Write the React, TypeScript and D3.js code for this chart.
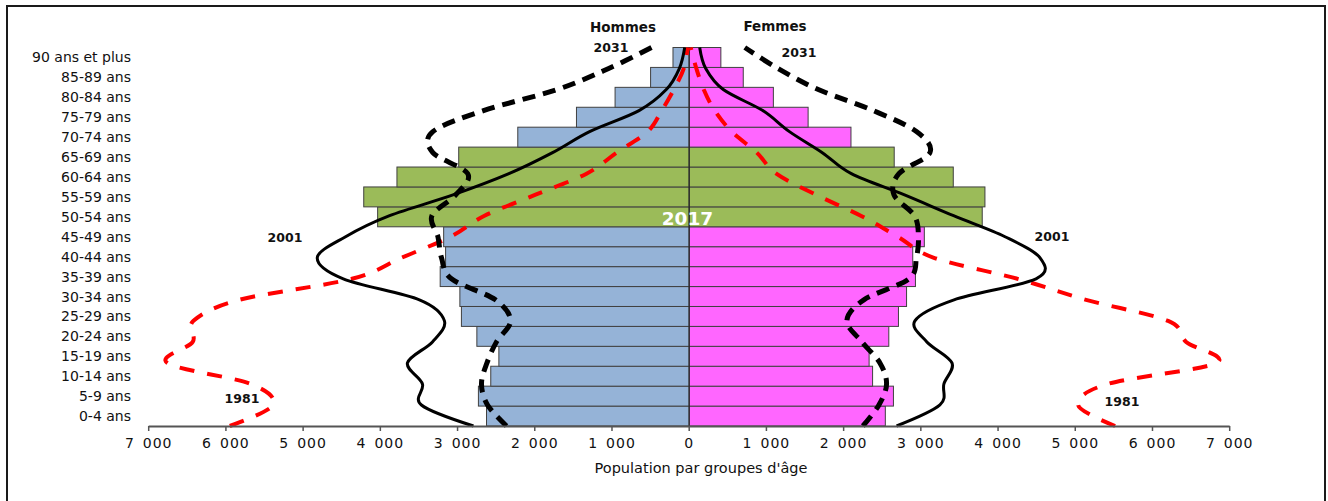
import React from "react";
import * as d3 from "d3";

const ageGroups = [
  "0-4 ans", "5-9 ans", "10-14 ans", "15-19 ans", "20-24 ans", "25-29 ans",
  "30-34 ans", "35-39 ans", "40-44 ans", "45-49 ans", "50-54 ans", "55-59 ans",
  "60-64 ans", "65-69 ans", "70-74 ans", "75-79 ans", "80-84 ans", "85-89 ans",
  "90 ans et plus",
];

// 2017 pyramid (bars)
const hommes2017 = [2625, 2730, 2570, 2465, 2750, 2950, 2970, 3225, 3155, 3180, 4035, 4215, 3785, 2985, 2220, 1460, 960, 500, 210];
const femmes2017 = [2540, 2645, 2375, 2330, 2585, 2710, 2815, 2930, 2895, 3045, 3795, 3830, 3420, 2655, 2095, 1540, 1090, 700, 410];
const highlightGroups = ["50-54 ans", "55-59 ans", "60-64 ans", "65-69 ans"];

// Overlay curves
const hommes1981 = [5950, 5390, 5680, 6760, 6430, 6420, 5825, 4367, 3727, 3092, 2651, 1990, 1330, 940, 538, 356, 200, 71, 20];
const femmes1981 = [5516, 5037, 5420, 6830, 6436, 6203, 5140, 4252, 3169, 2703, 2222, 1640, 1128, 875, 551, 330, 188, 93, 20];
const hommes2001 = [2794, 3468, 3455, 3649, 3325, 3170, 3494, 4480, 4817, 4450, 3880, 3050, 2335, 1770, 1290, 650, 297, 128, 58];
const femmes2001 = [2686, 3247, 3299, 3403, 3078, 2923, 3430, 4492, 4544, 4090, 3424, 2781, 2100, 1724, 1298, 953, 441, 214, 136];
const hommes2031 = [2366, 2612, 2690, 2619, 2496, 2314, 2509, 3079, 3208, 3254, 3332, 3022, 2868, 3320, 3320, 2664, 1711, 1043, 486];
const femmes2031 = [2249, 2457, 2556, 2470, 2236, 2042, 2262, 2846, 2943, 2969, 2917, 2651, 2716, 3118, 2943, 2385, 1672, 1151, 720];

const xTicks = [-7000, -6000, -5000, -4000, -3000, -2000, -1000, 0, 1000, 2000, 3000, 4000, 5000, 6000, 7000];

const FONT = "'DejaVu Sans', Verdana, sans-serif";

export default function App() {
  const W = 1328;
  const H = 501;
  const top = 47.5;
  const bottom = 426;
  const x = d3.scaleLinear().domain([-7000, 7000]).range([148.7, 1229.7]);
  const y = d3.scaleBand<string>().domain(ageGroups).range([bottom, top]).paddingInner(0).paddingOuter(0);
  const yc = d3.scaleLinear().domain([0, ageGroups.length - 1]).range([bottom, top]);
  const locale = d3.formatLocale({ decimal: ",", thousands: "\u2002", grouping: [3], currency: ["", ""] });
  const fmt = locale.format(",");
  const bw = y.bandwidth();

  const mk = (vals: number[], sign: number) =>
    d3
      .line<number>()
      .x((v) => x(sign * v))
      .y((_, i) => yc(i))
      .curve(d3.curveCardinal.tension(0))(vals) || "";

  const blue = "#95B3D7";
  const pink = "#FF66FF";
  const green = "#9BBB59";
  const edge = "#404040";

  return (
    <svg width={W} height={H} style={{ position: "absolute", left: 0, top: 0, background: "#fff" }}>
      <rect x={7} y={6} width={1318} height={520} fill="#fff" stroke="#1a1a1a" strokeWidth={2} />

      {/* bars */}
      {ageGroups.map((g, i) => {
        const hl = highlightGroups.includes(g);
        const yy = y(g)!;
        return (
          <g key={g}>
            <rect x={x(-hommes2017[i])} y={yy} width={x(0) - x(-hommes2017[i])} height={bw}
              fill={hl ? green : blue} stroke={edge} strokeWidth={1} />
            <rect x={x(0)} y={yy} width={x(femmes2017[i]) - x(0)} height={bw}
              fill={hl ? green : pink} stroke={edge} strokeWidth={1} />
          </g>
        );
      })}
      <line x1={x(0)} x2={x(0)} y1={top} y2={bottom} stroke="#222" strokeWidth={1} />

      {/* category labels */}
      {ageGroups.map((g) => (
        <text key={g} x={131} y={y(g)! + bw / 2 + 5} textAnchor="end" fontFamily={FONT} fontSize={14} fill="#111">
          {g}
        </text>
      ))}

      {/* curves */}
      <path d={mk(hommes1981, -1)} fill="none" stroke="#FF0000" strokeWidth={4} strokeDasharray="15 13" />
      <path d={mk(femmes1981, 1)} fill="none" stroke="#FF0000" strokeWidth={4} strokeDasharray="15 13" />
      <path d={mk(hommes2001, -1)} fill="none" stroke="#000" strokeWidth={3} />
      <path d={mk(femmes2001, 1)} fill="none" stroke="#000" strokeWidth={3} />
      <path d={mk(hommes2031, -1)} fill="none" stroke="#000" strokeWidth={5} strokeDasharray="13 8" />
      <path d={mk(femmes2031, 1)} fill="none" stroke="#000" strokeWidth={5} strokeDasharray="13 8" />

      {/* axis */}
      <line x1={x(-7000)} x2={x(7000)} y1={bottom + 0.5} y2={bottom + 0.5} stroke="#555" strokeWidth={2} />
      {xTicks.map((t) => (
        <g key={t}>
          <line x1={x(t)} x2={x(t)} y1={bottom} y2={bottom + 5} stroke="#555" strokeWidth={1.5} />
          <text x={x(t)} y={448} textAnchor="middle" fontFamily={FONT} fontSize={14} letterSpacing={1} fill="#111">
            {fmt(Math.abs(t))}
          </text>
        </g>
      ))}
      <text x={701} y={473} textAnchor="middle" fontFamily={FONT} fontSize={14.5} fill="#111">
        Population par groupes d'âge
      </text>

      {/* annotations */}
      <text x={623} y={32} textAnchor="middle" fontFamily={FONT} fontWeight="bold" fontSize={13.5} fill="#111">Hommes</text>
      <text x={775} y={31} textAnchor="middle" fontFamily={FONT} fontWeight="bold" fontSize={13.5} fill="#111">Femmes</text>
      <text x={611} y={52} textAnchor="middle" fontFamily={FONT} fontWeight="bold" fontSize={12.5} fill="#111">2031</text>
      <text x={799} y={57} textAnchor="middle" fontFamily={FONT} fontWeight="bold" fontSize={12.5} fill="#111">2031</text>
      <text x={285} y={242} textAnchor="middle" fontFamily={FONT} fontWeight="bold" fontSize={12.5} fill="#111">2001</text>
      <text x={1052} y={241} textAnchor="middle" fontFamily={FONT} fontWeight="bold" fontSize={12.5} fill="#111">2001</text>
      <text x={242} y={403} textAnchor="middle" fontFamily={FONT} fontWeight="bold" fontSize={12.5} fill="#111">1981</text>
      <text x={1122} y={406} textAnchor="middle" fontFamily={FONT} fontWeight="bold" fontSize={12.5} fill="#111">1981</text>
      <text x={687.5} y={225} textAnchor="middle" fontFamily={FONT} fontWeight="bold" fontSize={18.5} fill="#fff">2017</text>
    </svg>
  );
}
